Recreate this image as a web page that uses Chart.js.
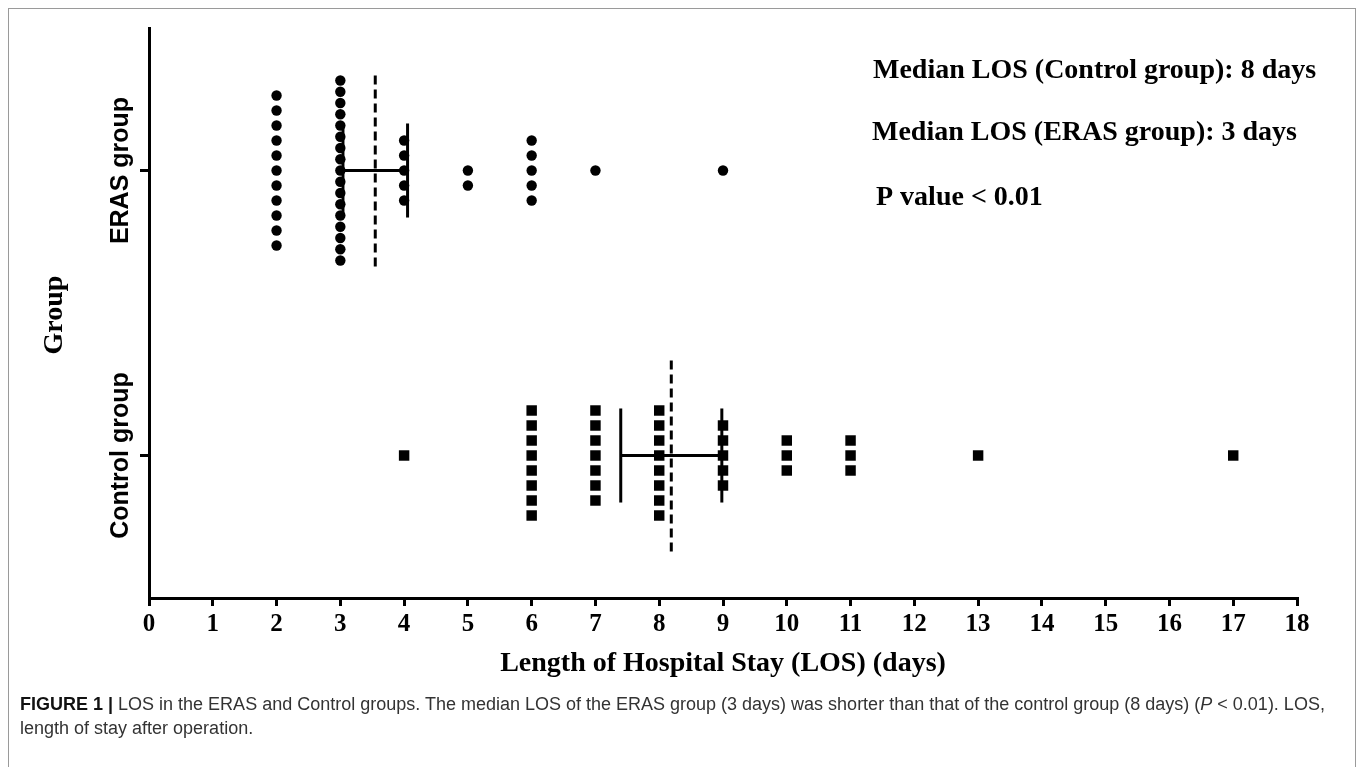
<!DOCTYPE html>
<html>
<head>
<meta charset="utf-8">
<title>LOS in the ERAS and Control groups</title>
<script src="https://cdn.jsdelivr.net/npm/chart.js@4.4.1/dist/chart.umd.min.js"></script>
<style>
  html, body { margin: 0; padding: 0; background: #fff; }
  #wrap { position: absolute; left: 0; top: 0; width: 1358px; height: 767px; }
  #frame { position: absolute; left: 8px; top: 8px; width: 1346px; height: 800px; border: 1px solid #9a9a9a; }
  #caption {
    position: absolute; left: 20px; top: 692px; width: 1330px;
    font-family: "Liberation Sans", Arial, sans-serif; font-size: 18px; line-height: 24px; color: #333;
  }
  #caption b { color: #111; }
</style>
</head>
<body>
<div id="frame"></div>
<div id="wrap"><canvas id="chart"></canvas></div>
<div id="caption"><b>FIGURE 1 |</b> LOS in the ERAS and Control groups. The median LOS of the ERAS group (3 days) was shorter than that of the control group (8 days) (<i>P</i> &lt; 0.01). LOS, length of stay after operation.</div>

<script>
// --- データ ---
const groupNames = ['Control group', 'ERAS group'];
const groupValues = [1, 2];

// LOS (days) と患者数
const erasDays = [2, 3, 4, 5, 6, 7, 9];
const erasCounts = [11, 17, 5, 2, 5, 1, 1];
const controlDays = [4, 6, 7, 8, 9, 10, 11, 13, 17];
const controlCounts = [1, 8, 7, 8, 5, 3, 3, 1, 1];

const xTicks = [0, 18];
const notes = [
  'Median LOS (Control group): 8 days',
  'Median LOS (ERAS group): 3 days',
  'P value < 0.01'
];

// --- 見た目 ---
const DOT_GAP = 15 / 285;      // 縦方向の点の間隔 (y単位)
const MAX_SLOTS = 13;
const MEAN_HALF = 0.337;       // 平均線 (破線) の半分の長さ
const CAP_HALF = 0.165;        // 95%CIキャップ
const SERIF = '"Liberation Serif", "Times New Roman", serif';

// 点を縦に積み上げる
function stackPoints(days, counts, g) {
  const pts = [];
  days.forEach((d, i) => {
    const n = counts[i];
    const gap = n > MAX_SLOTS ? DOT_GAP * (MAX_SLOTS - 1) / (n - 1) : DOT_GAP;
    const mid = Math.floor((n - 1) / 2);
    for (let k = 0; k < n; k++) pts.push({ x: d, y: g - (k - mid) * gap });
  });
  return pts;
}

function stats(days, counts) {
  let n = 0, sum = 0;
  days.forEach((d, i) => { n += counts[i]; sum += d * counts[i]; });
  const mean = sum / n;
  let ss = 0;
  days.forEach((d, i) => { ss += counts[i] * (d - mean) ** 2; });
  const sd = Math.sqrt(ss / (n - 1));
  const t = 1.96 + 2.4 / (n - 1);
  const ci = t * sd / Math.sqrt(n);
  return { mean, lo: mean - ci, hi: mean + ci };
}

function lineSet(points, dashed) {
  return {
    type: 'line', data: points, showLine: true, pointRadius: 0,
    borderColor: '#000', borderWidth: 3, borderDash: dashed ? [9, 5] : [],
    fill: false, order: 0
  };
}

function summarySets(days, counts, g) {
  const s = stats(days, counts);
  return [
    lineSet([{ x: s.mean, y: g - MEAN_HALF }, { x: s.mean, y: g + MEAN_HALF }], true),
    lineSet([{ x: s.lo, y: g }, { x: s.hi, y: g }], false),
    lineSet([{ x: s.lo, y: g - CAP_HALF }, { x: s.lo, y: g + CAP_HALF }], false),
    lineSet([{ x: s.hi, y: g - CAP_HALF }, { x: s.hi, y: g + CAP_HALF }], false)
  ];
}

const textPlugin = {
  id: 'textPlugin',
  afterDraw(chart) {
    const ctx = chart.ctx;
    const ys = chart.scales.y;
    const area = chart.chartArea;
    ctx.save();
    ctx.fillStyle = '#000';
    ctx.textAlign = 'center';
    ctx.textBaseline = 'middle';

    // カテゴリラベル
    ctx.font = 'bold 25px "Liberation Sans", Arial, sans-serif';
    groupNames.forEach((name, i) => {
      ctx.save();
      ctx.translate(121, ys.getPixelForValue(groupValues[i]));
      ctx.rotate(-Math.PI / 2);
      ctx.fillText(name, 0, 0);
      ctx.restore();
    });

    // 軸タイトル
    ctx.font = 'bold 28px ' + SERIF;
    ctx.save();
    ctx.translate(55, 315);
    ctx.rotate(-Math.PI / 2);
    ctx.fillText('Group', 0, 0);
    ctx.restore();
    ctx.fillText('Length of Hospital Stay (LOS) (days)', (area.left + area.right) / 2, 664);

    // 注記
    ctx.textAlign = 'left';
    ctx.fillText(notes[0], 873, 71);
    ctx.fillText(notes[1], 872, 133);
    ctx.fillText(notes[2], 876, 198);
    ctx.restore();
  }
};

new Chart(document.getElementById('chart'), {
  type: 'scatter',
  data: {
    datasets: [
      ...summarySets(erasDays, erasCounts, 2),
      ...summarySets(controlDays, controlCounts, 1),
      {
        label: 'ERAS group',
        data: stackPoints(erasDays, erasCounts, 2),
        pointStyle: 'circle', pointRadius: 5.2, pointHoverRadius: 5.2,
        backgroundColor: '#000', borderWidth: 0, order: 1
      },
      {
        label: 'Control group',
        data: stackPoints(controlDays, controlCounts, 1),
        pointStyle: 'rect', pointRadius: 7.4, pointHoverRadius: 7.4,
        backgroundColor: '#000', borderWidth: 0, order: 1
      }
    ]
  },
  options: {
    responsive: true,
    maintainAspectRatio: false,
    animation: false,
    layout: { padding: { left: 0, top: 28, right: 61, bottom: 0 } },
    plugins: { legend: { display: false }, tooltip: { enabled: false } },
    scales: {
      x: {
        type: 'linear', min: xTicks[0], max: xTicks[1],
        afterFit: s => { s.height = 169; },
        border: { display: true, width: 3, color: '#000' },
        grid: { drawOnChartArea: false, drawTicks: true, tickLength: 8, lineWidth: 3, color: '#000' },
        ticks: {
          stepSize: 1, color: '#000', padding: 4, maxRotation: 0,
          font: { family: SERIF, size: 25, weight: 'bold' }
        }
      },
      y: {
        type: 'linear', min: 0.5, max: 2.5,
        afterFit: s => { s.width = 149; },
        afterBuildTicks: s => { s.ticks = groupValues.map(v => ({ value: v })); },
        border: { display: true, width: 3, color: '#000' },
        grid: { drawOnChartArea: false, drawTicks: true, tickLength: 9, lineWidth: 3, color: '#000' },
        ticks: { display: false }
      }
    }
  },
  plugins: [textPlugin]
});
</script>
</body>
</html>
